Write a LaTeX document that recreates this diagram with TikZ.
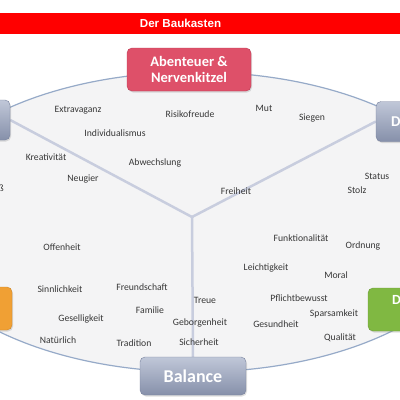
\documentclass[tikz,border=0pt]{standalone}
\usepackage{fontspec}
\setmainfont{Carlito}
\newfontfamily\bannerfont{Liberation Sans}
\usetikzlibrary{shadows,backgrounds}
\definecolor{bannerred}{RGB}{255,0,0}
\definecolor{thrillred}{RGB}{222,80,105}
\definecolor{thrillline}{RGB}{190,60,85}
\definecolor{slatetop}{RGB}{192,199,216}
\definecolor{slatebottom}{RGB}{134,144,170}
\definecolor{slateline}{RGB}{120,130,158}
\definecolor{harmonyorange}{RGB}{240,160,52}
\definecolor{disciplinegreen}{RGB}{128,184,66}
\definecolor{ovalfill}{RGB}{244,244,245}
\definecolor{ovalline}{RGB}{150,170,200}
\definecolor{spokeline}{RGB}{200,205,222}
\definecolor{wordgray}{RGB}{55,55,55}

\begin{document}
\begin{tikzpicture}[x=1pt,y=-1pt,
  box/.style={rounded corners=5pt,inner sep=2pt,text=white,
    drop shadow={opacity=0.25,shadow xshift=1pt,shadow yshift=-1.5pt}},
  slatebox/.style={box,draw=slateline,top color=slatetop,bottom color=slatebottom,
    minimum width=100pt,minimum height=40pt},
  boxtext/.style={inner sep=0pt,text=white,font=\fontsize{15}{17}\selectfont\bfseries},
  word/.style={inner sep=0pt,text=wordgray,font=\fontsize{9.7}{11}\selectfont},
  spoke/.style={draw=spokeline,line width=2.5pt}]
\useasboundingbox (0,0) rectangle (400,400);

% Kopfzeile
\node [fill=bannerred,minimum width=440pt,minimum height=21pt,inner sep=0pt,
  text=white,font=\fontsize{11.6}{13}\bannerfont\bfseries] (banner) at (180.5,23) {Der Baukasten};

% Felder
\node [box,draw=thrillline,fill=thrillred,minimum width=124pt,minimum height=43pt,align=center,
  font=\fontsize{14.5}{15.5}\selectfont\bfseries] (abenteuer) at (189,69.5) {Abenteuer \&\\Nervenkitzel};
\node [slatebox] (stimulanz) at (-40,120) {};
\node [slatebox] (dominanz) at (426,121.5) {};
\node [boxtext,anchor=west] (dominanzlabel) at (391,121.5) {D};
\node [box,draw=harmonyorange!85!black,fill=harmonyorange,minimum width=100pt,minimum height=43pt] (harmonie) at (-38,308.5) {};
\node [box,draw=disciplinegreen!85!black,fill=disciplinegreen,minimum width=100pt,minimum height=43pt] (disziplin) at (418,309.5) {};
\node [boxtext,anchor=west,font=\fontsize{14}{16}\selectfont\bfseries] (disziplinlabel) at (392,300) {D};
\node [slatebox,minimum width=106pt,minimum height=38pt,
  font=\fontsize{18}{20}\selectfont\bfseries] (balance) at (193,376) {Balance};

\coordinate (hub) at (192,217);
\begin{scope}[on background layer]
\fill [white] (0,0) rectangle (400,400);
\draw [ovalline,fill=ovalfill,line width=1.2pt] (195,222) ellipse [x radius=287,y radius=150];
\draw [spoke] (hub) -- (stimulanz.east);
\draw [spoke] (hub) -- (dominanz.west);
\draw [spoke] (hub) -- (balance.north);
\end{scope}

% Werte
\foreach \pos/\txt [count=\i] in {
  {(78,110)}/Extravaganz, {(115,133)}/Individualismus, {(190,114)}/Risikofreude,
  {(264,108)}/Mut, {(312,118)}/Siegen, {(46,157)}/Kreativität,
  {(155,163)}/Abwechslung, {(83,179)}/Neugier, {(377,176)}/Status,
  {(357,190)}/Stolz, {(236,191)}/Freiheit, {(62,247)}/Offenheit,
  {(301,238)}/Funktionalität, {(363,246)}/Ordnung, {(266,268)}/Leichtigkeit,
  {(336,275)}/Moral, {(60,289)}/Sinnlichkeit, {(142,287)}/Freundschaft,
  {(299,298)}/Pflichtbewusst, {(205,300)}/Treue, {(150,310)}/Familie,
  {(334,314)}/Sparsamkeit, {(81,319)}/Geselligkeit, {(200,323)}/Geborgenheit,
  {(276,324)}/Gesundheit, {(58,340)}/Natürlich, {(134,343)}/Tradition,
  {(199,342)}/Sicherheit, {(340,338)}/Qualität}
  \node [word] (wert\i) at \pos {\txt};
\node [word,anchor=east] (genuss) at (4,188.5) {ß};
\end{tikzpicture}
\end{document}
